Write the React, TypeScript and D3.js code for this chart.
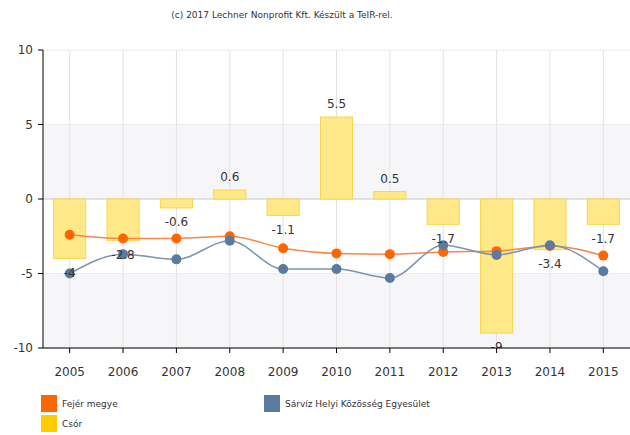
import React from "react";
import * as d3 from "d3";

const years = ["2005","2006","2007","2008","2009","2010","2011","2012","2013","2014","2015"];
const csor = [-4, -2.8, -0.6, 0.6, -1.1, 5.5, 0.5, -1.7, -9, -3.4, -1.7];
const fejer = [-2.4, -2.65, -2.65, -2.5, -3.3, -3.65, -3.7, -3.55, -3.5, -3.15, -3.8];
const sarviz = [-5.0, -3.7, -4.05, -2.8, -4.7, -4.7, -5.3, -3.1, -3.75, -3.1, -4.85];
const yTicks = [10, 5, 0, -5, -10];
const title = "(c) 2017 Lechner Nonprofit Kft. Készült a TeIR-rel.";

const W = 630, H = 435;
const L = 43, R = 630, T = 50, B = 348;
const font = "Tahoma, 'DejaVu Sans', Verdana, sans-serif";

export default function App() {
  const x = d3.scaleBand().domain(years).range([L, R]).paddingInner(0.38).paddingOuter(0.19);
  const xc = (i: number) => (x(years[i]) as number) + x.bandwidth() / 2;
  const y = d3.scaleLinear().domain([-10, 10]).range([B, T]);
  const lineGen = d3.line<number>().x((_, i) => xc(i)).y((d) => y(d)).curve(d3.curveMonotoneX);
  const fmt = (v: number) => (Number.isInteger(v) ? String(v) : v.toFixed(1));

  return (
    <svg width={W} height={H} style={{ position: "absolute", left: 0, top: 0 }} fontFamily={font}>
      <defs>
        <clipPath id="plot">
          <rect x={L} y={T} width={R - L} height={B - T} />
        </clipPath>
      </defs>
      <rect width={W} height={H} fill="#fff" />
      <text x={282} y={18} textAnchor="middle" fontSize={9} fill="#333">{title}</text>
      {yTicks.slice(0, -1).map((t, i) => (
        <rect key={"band" + t} x={L} y={y(t)} width={R - L} height={y(t - 5) - y(t)} fill={i % 2 === 1 ? "#f6f6f8" : "#fff"} />
      ))}
      {years.map((yr, i) => (
        <line key={"vg" + yr} x1={xc(i)} x2={xc(i)} y1={T} y2={B} stroke="#e2e2e2" strokeWidth={1} />
      ))}
      {yTicks.map((t) => (
        <line key={"hg" + t} x1={L} x2={R} y1={y(t)} y2={y(t)} stroke={t === 0 ? "#c8c8c8" : "#ececec"} strokeWidth={1} />
      ))}
      <g clipPath="url(#plot)">
        {csor.map((v, i) => (
          <rect key={"bar" + i} x={(x(years[i]) as number) + 0.5} y={Math.min(y(v), y(0))} width={x.bandwidth() - 1}
            height={Math.abs(y(v) - y(0))} fill="#ffe888" stroke="#f7d64a" strokeWidth={1} />
        ))}
        <path d={lineGen(fejer) || ""} fill="none" stroke="#f4874a" strokeWidth={1.5} />
        <path d={lineGen(sarviz) || ""} fill="none" stroke="#7d93b0" strokeWidth={1.5} />
        {fejer.map((v, i) => (
          <circle key={"fc" + i} cx={xc(i)} cy={y(v)} r={5} fill="#ff6600" />
        ))}
        {sarviz.map((v, i) => (
          <circle key={"sc" + i} cx={xc(i)} cy={y(v)} r={5} fill="#5a7aa0" />
        ))}
        {csor.map((v, i) => (
          <text key={"lab" + i} x={xc(i)} y={v >= 0 ? y(v) - 13 : y(v) + 14} dy="0.35em" textAnchor="middle" fontSize={12} fill="#333">
            {fmt(v)}
          </text>
        ))}
      </g>
      <line x1={L} x2={L} y1={T} y2={B} stroke="#000" strokeWidth={1} />
      <line x1={L} x2={R} y1={B} y2={B} stroke="#000" strokeWidth={1} />
      {yTicks.map((t) => (
        <g key={"yt" + t}>
          <line x1={L - 5} x2={L} y1={y(t)} y2={y(t)} stroke="#000" />
          <text x={L - 10} y={y(t)} dy="0.35em" textAnchor="end" fontSize={12} fill="#333">{t}</text>
        </g>
      ))}
      {years.map((yr, i) => (
        <g key={"xt" + yr}>
          <line x1={xc(i)} x2={xc(i)} y1={B} y2={B + 5} stroke="#000" />
          <text x={xc(i)} y={B + 24} dy="0.35em" textAnchor="middle" fontSize={12} fill="#333">{yr}</text>
        </g>
      ))}
      <rect x={41} y={395} width={16} height={17} fill="#ff6600" />
      <text x={62} y={404} dy="0.35em" fontSize={9} fill="#333">Fejér megye</text>
      <rect x={264} y={395} width={16} height={17} fill="#5a7aa0" />
      <text x={285} y={404} dy="0.35em" fontSize={9} fill="#333">Sárvíz Helyi Közösség Egyesület</text>
      <rect x={41} y={415} width={16} height={17} fill="#ffcc00" />
      <text x={62} y={424} dy="0.35em" fontSize={9} fill="#333">Csór</text>
    </svg>
  );
}
